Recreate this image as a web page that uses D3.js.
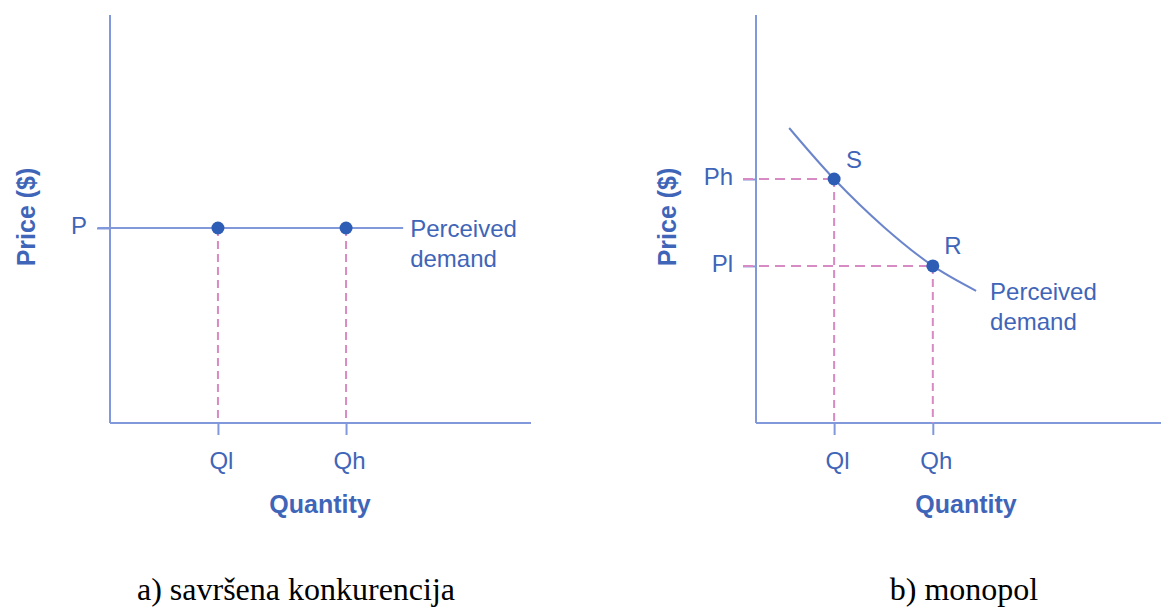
<!DOCTYPE html>
<html>
<head>
<meta charset="utf-8">
<script src="https://cdn.jsdelivr.net/npm/d3@7"></script>
<style>
  body { margin: 0; background: #fff; }
  svg { display: block; }
  .lbl { font-family: "Liberation Sans", Arial, sans-serif; fill: #3f65b8; }
  .cap { font-family: "Liberation Serif", "Times New Roman", serif; fill: #000; }
</style>
</head>
<body>
<div id="chart"></div>
<script>
// panel a) perfect competition
var compPrice = 4.78;
var compQty = [2.57, 5.62];
var compQtyLabels = ["Ql", "Qh"];
var compLineEnds = [-0.29, 6.98];

// panel b) monopoly
var monoQty = [1.86, 4.21];
var monoQtyLabels = ["Ql", "Qh"];
var monoPrice = [5.98, 3.85];
var monoPriceLabels = ["Ph", "Pl"];
var monoPointLabels = ["S", "R"];
var demandX = [0.79, 1.86, 3.05, 4.21, 5.24];
var demandY = [7.23, 5.98, 4.80, 3.85, 3.24];

var W = 1161, H = 607;
var axisColor = "#8199da";
var dotColor = "#2d5db4";
var dashColor = "#d88ac4";
var labelSize = "24px";

var svg = d3.select("#chart").append("svg")
    .attr("width", W)
    .attr("height", H);

function makePanel(x0, x1) {
    var p = {};
    p.x = d3.scaleLinear().domain([0, 10]).range([x0, x1]);
    p.y = d3.scaleLinear().domain([0, 10]).range([423, 15]);
    return p;
}

function drawAxes(p, xEnd, qty, qtyLabels, priceTicks, priceLabels, titleX, priceTitleX) {
    var g = svg.append("g");
    // x axis
    var xa = g.append("g")
        .attr("transform", "translate(0," + p.y(0) + ")")
        .call(d3.axisBottom(p.x).tickValues(qty)
            .tickFormat(function(d, i) { return qtyLabels[i]; })
            .tickSize(12).tickSizeOuter(0).tickPadding(17));
    xa.select(".domain").attr("d", "M" + p.x(0) + ",0H" + xEnd);
    xa.selectAll(".tick text").attr("dx", "3");
    // y axis
    var ya = g.append("g")
        .attr("transform", "translate(" + p.x(0) + ",0)")
        .call(d3.axisLeft(p.y).tickValues(priceTicks)
            .tickFormat(function(d, i) { return priceLabels[i]; })
            .tickSize(13).tickSizeOuter(0).tickPadding(10));
    ya.select(".domain").attr("d", "M0," + p.y(0) + "V" + p.y(10));
    g.selectAll(".domain, .tick line")
        .attr("stroke", axisColor)
        .attr("stroke-width", 2);
    g.selectAll(".tick text")
        .attr("class", "lbl")
        .attr("fill", "#3f65b8")
        .style("font-size", labelSize);
    ya.selectAll(".tick text").attr("dy", "0.22em");

    svg.append("text").attr("class", "lbl")
        .attr("x", titleX).attr("y", 504)
        .attr("text-anchor", "middle")
        .attr("dominant-baseline", "central")
        .style("font-size", "25px").style("font-weight", "bold")
        .text("Quantity");
    svg.append("text").attr("class", "lbl")
        .attr("transform", "translate(" + priceTitleX + ",217) rotate(-90)")
        .attr("text-anchor", "middle")
        .attr("dominant-baseline", "central")
        .style("font-size", "25px").style("font-weight", "bold")
        .text("Price ($)");
}

// ---- panel a ----
var a = makePanel(110, 530);
drawAxes(a, 531, compQty, compQtyLabels, [compPrice], ["P"], 320, 26);

svg.selectAll(".dropA").data(compQty).enter().append("line")
    .attr("x1", function(d) { return a.x(d); })
    .attr("x2", function(d) { return a.x(d); })
    .attr("y1", a.y(compPrice))
    .attr("y2", a.y(0))
    .attr("stroke", dashColor).attr("stroke-width", 2)
    .attr("stroke-dasharray", "8,5");

svg.append("line")
    .attr("x1", a.x(compLineEnds[0])).attr("x2", a.x(compLineEnds[1]))
    .attr("y1", a.y(compPrice)).attr("y2", a.y(compPrice))
    .attr("stroke", axisColor).attr("stroke-width", 2);

svg.selectAll(".dotA").data(compQty).enter().append("circle")
    .attr("cx", function(d) { return a.x(d); })
    .attr("cy", a.y(compPrice))
    .attr("r", 6.5)
    .attr("fill", dotColor);

var demA = svg.append("text").attr("class", "lbl")
    .attr("x", a.x(compLineEnds[1]) + 7).attr("y", a.y(compPrice))
    .style("font-size", labelSize);
demA.append("tspan").attr("x", a.x(compLineEnds[1]) + 7).attr("dy", "0.37em").text("Perceived");
demA.append("tspan").attr("x", a.x(compLineEnds[1]) + 7).attr("dy", "1.25em").text("demand");

svg.append("text").attr("class", "cap")
    .attr("x", 296).attr("y", 600)
    .attr("text-anchor", "middle")
    .style("font-size", "32px")
    .text("a) savršena konkurencija");

// ---- panel b ----
var b = makePanel(756, 1176);
drawAxes(b, W, monoQty, monoQtyLabels, monoPrice, monoPriceLabels, 966, 667);

// dashed guides
monoQty.forEach(function(q, i) {
    svg.append("line")
        .attr("x1", b.x(q)).attr("x2", b.x(q))
        .attr("y1", b.y(monoPrice[i])).attr("y2", b.y(0))
        .attr("stroke", dashColor).attr("stroke-width", 2)
        .attr("stroke-dasharray", "8,5");
    svg.append("line")
        .attr("x1", b.x(0) - 13).attr("x2", b.x(q))
        .attr("y1", b.y(monoPrice[i])).attr("y2", b.y(monoPrice[i]))
        .attr("stroke", dashColor).attr("stroke-width", 2)
        .attr("stroke-dasharray", "10,6");
});

var demand = demandX.map(function(d, i) { return [d, demandY[i]]; });
var line = d3.line()
    .x(function(d) { return b.x(d[0]); })
    .y(function(d) { return b.y(d[1]); })
    .curve(d3.curveCatmullRom);
svg.append("path")
    .datum(demand)
    .attr("d", line)
    .attr("fill", "none")
    .attr("stroke", "#6b85cc")
    .attr("stroke-width", 2);

svg.selectAll(".dotB").data(monoQty).enter().append("circle")
    .attr("cx", function(d) { return b.x(d); })
    .attr("cy", function(d, i) { return b.y(monoPrice[i]); })
    .attr("r", 6.5)
    .attr("fill", dotColor);

svg.selectAll(".ptLbl").data(monoQty).enter().append("text")
    .attr("class", "lbl")
    .attr("x", function(d) { return b.x(d) + 20; })
    .attr("y", function(d, i) { return b.y(monoPrice[i]) - 20; })
    .attr("text-anchor", "middle")
    .attr("dominant-baseline", "central")
    .style("font-size", labelSize)
    .text(function(d, i) { return monoPointLabels[i]; });

var endPt = demand[demand.length - 1];
var demB = svg.append("text").attr("class", "lbl")
    .attr("x", b.x(endPt[0]) + 14).attr("y", b.y(endPt[1]))
    .style("font-size", labelSize);
demB.append("tspan").attr("x", b.x(endPt[0]) + 14).attr("dy", "0.37em").text("Perceived");
demB.append("tspan").attr("x", b.x(endPt[0]) + 14).attr("dy", "1.25em").text("demand");

svg.append("text").attr("class", "cap")
    .attr("x", 964).attr("y", 600)
    .attr("text-anchor", "middle")
    .style("font-size", "32px")
    .text("b) monopol");
</script>
</body>
</html>
